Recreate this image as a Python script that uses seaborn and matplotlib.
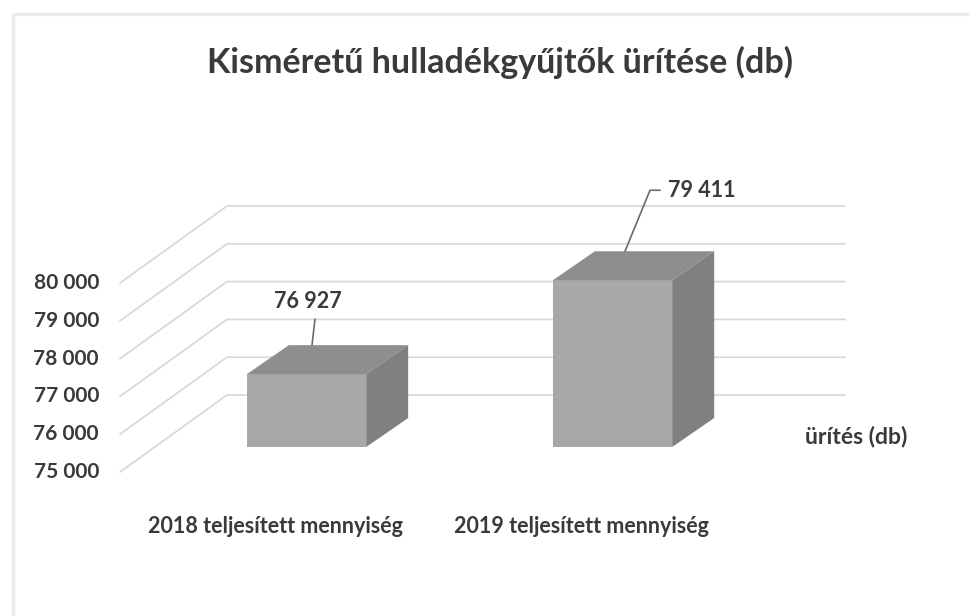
import numpy as np
import pandas as pd
import matplotlib
matplotlib.use('Agg')
import matplotlib.pyplot as plt
from matplotlib.patches import Polygon
import seaborn as sns

# data
categories = ['2018 teljesített mennyiség', '2019 teljesített mennyiség']
values = [76927, 79411]
value_labels = ['76 927', '79 411']
ticks = [75000, 76000, 77000, 78000, 79000, 80000]
tick_labels = ['75 000', '76 000', '77 000', '78 000', '79 000', '80 000']
series_name = 'ürítés (db)'
title = 'Kisméretű hulladékgyűjtők ürítése (db)'
base = 75000

sns.set_theme(style='white')
plt.rcParams['font.family'] = ['Lato', 'DejaVu Sans']

# pixel scale of the chart (bar front plane)
px_cat = 306.0      # px per category
px_val = 0.0378     # px per unit
x0_px, y0_px = 306.5, 447.0


def X(px):
    return (px - x0_px) / px_cat


def Y(py):
    return base + (y0_px - py) / px_val


def DX(d):
    return d / px_cat


def DY(d):
    return -d / px_val


# depth offsets (px) relative to the bar front plane
wall_front = (-35, 25)
bar_back = (42, -29)
wall_back = (72, -52)

text_c = '#3a3a3a'
grid_c = '#d9d9d9'
front_c = '#a8a8a8'
top_c = '#8e8e8e'
side_c = '#808080'

fig = plt.figure(figsize=(9.7, 6.16), dpi=100)
ax = fig.add_axes([0, 0, 1, 1])

df = pd.DataFrame({'cat': categories, 'h': [v - base for v in values]})
sns.barplot(data=df, x='cat', y='h', bottom=base, width=0.39, color=front_c,
            saturation=1, edgecolor='none', linewidth=0, zorder=3, ax=ax)

ax.set_xlim(X(0), X(970))
ax.set_ylim(Y(616), Y(0))
ax.axis('off')

# walls: diagonal side-wall lines + horizontal back-wall lines
wl_front = X(120)
wl_back = wl_front + DX(wall_back[0] - wall_front[0])
wr_back = X(845)
for t, lab in zip(ticks, tick_labels):
    yf = t + DY(wall_front[1])
    yb = t + DY(wall_back[1])
    ax.plot([wl_front, wl_back, wr_back], [yf, yb, yb], color=grid_c, lw=1.3, zorder=1)
    ax.text(X(99), yf, lab, ha='right', va='center', fontsize=15,
            fontweight='bold', color=text_c)

# 3D top and side faces of each bar
ox, oy = DX(bar_back[0]), DY(bar_back[1])
for p in ax.patches[:len(values)]:
    L, w, B, h = p.get_x(), p.get_width(), p.get_y(), p.get_height()
    R, T = L + w, B + h
    ax.add_patch(Polygon([(L, T), (R, T), (R + ox, T + oy), (L + ox, T + oy)],
                         closed=True, facecolor=top_c, edgecolor='none', zorder=3))
    ax.add_patch(Polygon([(R, B), (R, T), (R + ox, T + oy), (R + ox, B + oy)],
                         closed=True, facecolor=side_c, edgecolor='none', zorder=3))

# data labels with leader lines
bars = ax.patches[:len(values)]
leaders = [[(5.5, -29), (8.5, -55)], [(12.5, -29), (37.5, -90), (47.5, -90)]]
text_pos = [((1.5, -73), 'center'), ((55.5, -90), 'left')]
for p, lab, lead, (tp, ha) in zip(bars, value_labels, leaders, text_pos):
    cx = p.get_x() + p.get_width() / 2
    top = p.get_y() + p.get_height()
    ax.plot([cx + DX(a) for a, b in lead], [top + DY(b) for a, b in lead],
            color='#6a6a6a', lw=1.2, zorder=4)
    ax.text(cx + DX(tp[0]), top + DY(tp[1]), lab, ha=ha, va='center',
            fontsize=15.5, fontweight='bold', color=text_c)

# category labels
for p, cat in zip(bars, categories):
    cx = p.get_x() + p.get_width() / 2
    ax.text(cx + DX(-31), Y(527), cat, ha='center', va='center',
            fontsize=15.5, fontweight='bold', color=text_c)

ax.text(X(805), Y(437), series_name, ha='left', va='center',
        fontsize=16.5, fontweight='bold', color=text_c)

ax.text(X(500), Y(62), title, ha='center', va='center',
        fontsize=24.5, fontweight='bold', color=text_c)

# chart frame
ax.plot([X(13), X(13), X(970)], [Y(616), Y(14), Y(14)], color='#ececec', lw=2.5, zorder=0)

fig.savefig('out.png', dpi=100, facecolor='white')
